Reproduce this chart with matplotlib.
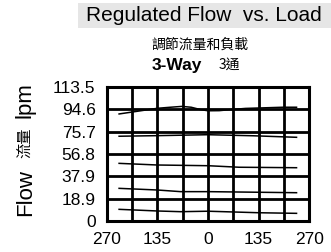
import matplotlib
matplotlib.use("Agg")
import matplotlib.pyplot as plt
from matplotlib.patches import Rectangle
from matplotlib.ticker import FixedLocator

plt.rcParams['font.family'] = ['Liberation Sans', 'Noto Sans CJK TC']

# load (x) and regulated flow (y) for each curve
load_1 = [-237, -190, -135, -100, -70, -45, -20, 0, 30, 60, 100, 150, 200, 236]
flow_1 = [90.8, 93.0, 95.6, 96.5, 97.2, 96.5, 94.5, 93.5, 93.6, 94.5, 95.5, 96.0, 96.5, 96.5]
load_2 = [-237, -135, 0, 120, 236]
flow_2 = [71.9, 72.4, 73.2, 72.3, 71.0]
load_3 = [-237, -135, 0, 83, 236]
flow_3 = [48.9, 47.5, 46.9, 45.6, 45.2]
load_4 = [-237, -135, -73, 0, 236]
flow_4 = [27.7, 26.3, 24.9, 24.9, 24.0]
load_5 = [-237, -135, -73, 0, 137, 236]
flow_5 = [9.9, 8.5, 7.9, 8.3, 7.0, 6.5]

x_ticks = [-270, -135, 0, 135, 270]
x_labels = ['270', '135', '0', '135', '270']
x_minor = [-202.5, -67.5, 67.5, 202.5]
y_ticks = [0, 18.9, 37.9, 56.8, 75.7, 94.6, 113.5]
y_labels = ['0', '18.9', '37.9', '56.8', '75.7', '94.6', '113.5']

fig = plt.figure(figsize=(3.31, 2.52), dpi=100)
ax = fig.add_axes([0.3224, 0.123, 0.612, 0.531])
ax.set_facecolor('white')

for xs, ys in [(load_1, flow_1), (load_2, flow_2), (load_3, flow_3),
               (load_4, flow_4), (load_5, flow_5)]:
    ax.plot(xs, ys, color='black', lw=1.1, zorder=3)

ax.set_xlim(-270, 270)
ax.set_ylim(0, 113.5)
ax.set_xticks(x_ticks)
ax.set_xticklabels(x_labels)
ax.xaxis.set_minor_locator(FixedLocator(x_minor))
ax.set_yticks(y_ticks)
ax.set_yticklabels(y_labels)
ax.grid(True, which='both', color='#000000', linewidth=2, zorder=1)
ax.tick_params(which='both', length=0, labelsize=12.5, pad=8)
for s in ax.spines.values():
    s.set_linewidth(2.2)
    s.set_edgecolor('#000000')

# title block
fig.add_artist(Rectangle((0.2356, 0.889), 0.7644, 0.099, transform=fig.transFigure,
                         facecolor='#e6e6e6', edgecolor='none', zorder=-1))
fig.text(0.616, 0.937, 'Regulated Flow  vs. Load', fontsize=15, ha='center', va='center')
fig.text(0.604, 0.821, '調節流量和負載', fontsize=10, ha='center', va='center',
         family='Noto Sans CJK TC')
fig.text(0.533, 0.742, '3-Way', fontsize=12.5, fontweight='bold', ha='center', va='center')
fig.text(0.692, 0.742, '3通', fontsize=10, ha='center', va='center',
         family='Noto Sans CJK TC')

# y label pieces
fig.text(0.076, 0.238, 'Flow', fontsize=16, rotation=90, ha='center', va='center')
fig.text(0.076, 0.433, '流量', fontsize=11, rotation=90, ha='center', va='center',
         family='Noto Sans CJK TC')
fig.text(0.076, 0.603, 'lpm', fontsize=16, rotation=90, ha='center', va='center')

fig.savefig('out.png', dpi=100)
